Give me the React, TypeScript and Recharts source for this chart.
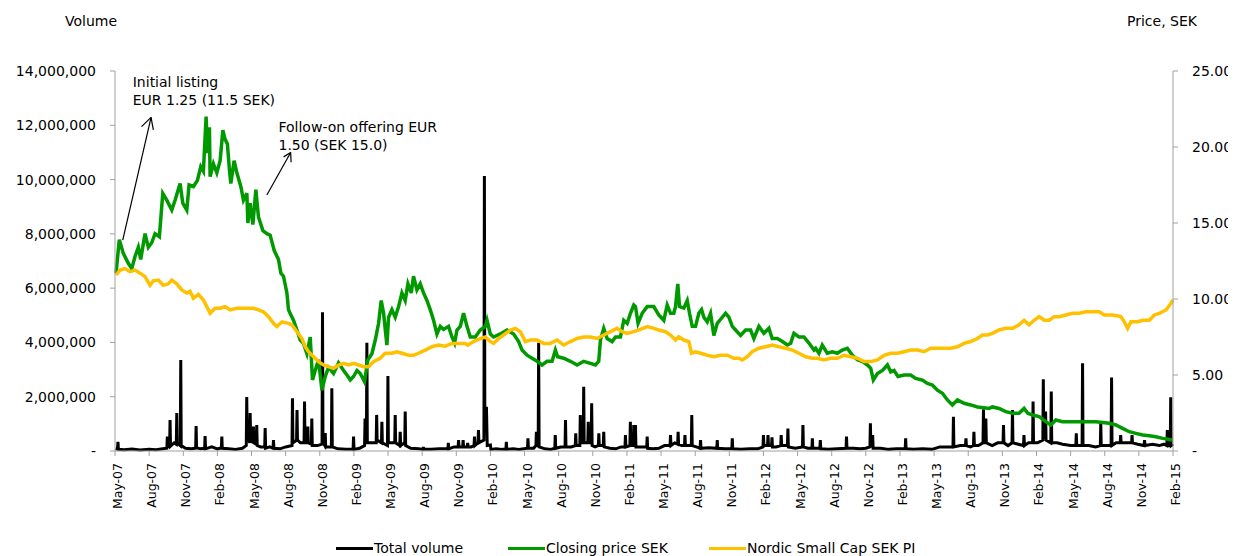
import React from 'react';
import { ComposedChart, Line, XAxis, YAxis, Legend, ReferenceLine, ReferenceDot } from 'recharts';

const FONT = 'Verdana, "DejaVu Sans", sans-serif';

// Quarterly tick labels; x values are months since May 2007
const quarterLabels = ['May-07','Aug-07','Nov-07','Feb-08','May-08','Aug-08','Nov-08','Feb-09','May-09','Aug-09','Nov-09','Feb-10','May-10','Aug-10','Nov-10','Feb-11','May-11','Aug-11','Nov-11','Feb-12','May-12','Aug-12','Nov-12','Feb-13','May-13','Aug-13','Nov-13','Feb-14','May-14','Aug-14','Nov-14','Feb-15'];
const quarterMonths = quarterLabels.map((_, i) => i * 3);
const volumeTicks = [0, 2000000, 4000000, 6000000, 8000000, 10000000, 12000000, 14000000];
const priceTicks = [0, 5, 10, 15, 20, 25];

// [month, SEK]
const closingPrice: [number, number][] = [
[0.09,11.7],[0.38,13.9],[0.73,13.0],[1.17,12.35],[1.47,12.0],[1.76,12.8],[2.05,13.4],[2.26,12.6],[2.64,14.3],[2.93,13.4],[3.23,13.7],[3.52,14.3],[3.9,14.1],[4.2,16.95],[4.55,16.5],[4.99,15.85],[5.28,16.5],[5.72,17.6],[5.96,16.3],[6.31,15.85],[6.51,17.5],[6.89,17.4],[7.24,17.8],[7.54,18.7],[7.77,18.4],[8.01,22.0],[8.12,19.6],[8.3,21.3],[8.36,18.05],[8.65,18.9],[8.95,18.3],[9.24,19.1],[9.48,21.1],[9.68,20.5],[9.88,20.2],[10.06,18.5],[10.18,17.6],[10.47,19.1],[10.71,18.3],[11.06,17.4],[11.29,16.5],[11.59,16.95],[11.68,15.0],[11.88,16.3],[12.12,14.9],[12.38,17.2],[12.61,15.4],[13.0,14.5],[13.35,14.3],[13.64,14.2],[13.99,13.2],[14.37,12.6],[14.58,11.7],[14.81,11.5],[15.11,10.4],[15.25,9.3],[15.4,9.05],[15.69,8.6],[15.99,7.96],[16.28,7.3],[16.57,7.08],[16.87,6.4],[17.16,7.5],[17.36,4.67],[17.6,5.3],[17.89,6.0],[18.19,4.0],[18.48,4.9],[18.77,5.5],[19.21,5.1],[19.65,5.8],[20.09,5.3],[20.39,5.0],[20.68,4.67],[20.97,4.9],[21.27,5.3],[21.56,5.1],[21.93,4.56],[22.23,6.0],[22.58,6.4],[22.88,7.3],[23.17,8.4],[23.4,9.9],[23.61,9.06],[23.9,6.97],[24.05,8.8],[24.34,9.3],[24.63,8.8],[24.93,9.5],[25.22,10.4],[25.51,9.9],[25.75,11.0],[26.04,10.4],[26.24,11.5],[26.54,10.6],[26.83,11.0],[27.12,10.4],[27.42,9.9],[27.71,9.3],[28.0,8.6],[28.3,7.7],[28.59,8.2],[28.88,8.0],[29.32,8.2],[29.62,7.5],[29.85,7.1],[30.06,7.96],[30.35,8.2],[30.64,9.06],[30.94,8.2],[31.23,7.5],[31.67,7.5],[32.11,7.96],[32.55,8.2],[32.7,8.6],[32.99,7.7],[33.28,7.5],[33.87,7.7],[34.46,7.96],[35.04,7.7],[35.48,7.2],[35.78,6.64],[36.22,6.3],[36.66,6.1],[37.1,5.9],[37.54,5.66],[37.98,5.9],[38.42,5.9],[38.71,6.64],[38.91,6.2],[39.44,6.1],[40.03,5.9],[40.62,5.66],[41.2,5.9],[41.79,5.77],[42.23,5.66],[42.52,5.9],[42.67,7.3],[42.96,8.07],[43.26,7.4],[43.7,7.2],[43.99,7.5],[44.43,7.5],[44.72,8.6],[45.02,8.4],[45.31,9.06],[45.6,9.6],[45.75,9.5],[45.98,8.4],[46.34,9.06],[46.78,9.5],[47.36,9.5],[47.8,8.95],[48.24,8.6],[48.54,9.6],[48.83,9.06],[49.12,9.06],[49.27,9.5],[49.47,11.0],[49.62,9.5],[50.0,9.4],[50.3,9.9],[50.5,9.06],[50.74,8.2],[51.03,8.2],[51.32,9.06],[51.56,9.3],[51.76,8.8],[52.06,8.5],[52.35,9.06],[52.64,7.6],[52.94,8.4],[53.38,8.8],[53.67,9.06],[53.96,8.8],[54.26,8.2],[54.55,7.96],[54.99,7.6],[55.43,7.96],[55.87,7.96],[56.16,7.4],[56.6,8.2],[57.04,7.74],[57.48,8.07],[57.77,7.4],[58.22,7.4],[58.66,7.2],[59.1,6.97],[59.39,7.08],[59.68,7.74],[60.12,7.5],[60.56,7.5],[61.0,7.1],[61.44,6.64],[61.59,6.76],[61.88,6.43],[62.17,6.97],[62.61,6.43],[63.05,6.53],[63.49,6.43],[63.93,6.64],[64.37,6.76],[64.82,6.3],[65.26,6.0],[65.7,5.88],[66.14,5.66],[66.43,5.44],[66.66,4.67],[67.02,5.1],[67.46,5.3],[67.9,5.66],[68.19,5.2],[68.48,5.3],[68.83,4.9],[69.36,5.0],[69.94,5.0],[70.38,4.78],[70.97,4.67],[71.41,4.45],[71.85,4.34],[72.29,4.0],[72.73,3.8],[73.17,3.36],[73.61,3.03],[74.05,3.36],[74.63,3.14],[75.22,3.03],[75.81,2.9],[76.37,2.85],[76.83,2.8],[77.13,2.9],[77.71,2.8],[78.3,2.59],[78.89,2.48],[79.47,2.48],[79.91,2.8],[80.24,2.48],[80.65,2.37],[81.24,2.26],[81.82,1.93],[82.26,1.71],[82.7,2.04],[83.29,1.93],[84.17,1.93],[85.05,1.93],[85.63,1.93],[86.22,1.93],[86.81,1.88],[87.39,1.82],[87.98,1.71],[88.57,1.49],[89.15,1.27],[89.74,1.16],[90.33,1.05],[90.92,1.0],[91.5,0.94],[92.09,0.83],[92.97,0.72]
];

// [month, index level on price axis]
const smallCapIndex: [number, number][] = [
[0.09,11.58],[0.44,11.9],[0.88,12.0],[1.32,11.8],[1.76,11.9],[2.2,11.7],[2.64,11.47],[3.08,10.9],[3.37,11.2],[3.81,11.25],[4.25,10.9],[4.69,11.0],[4.99,11.25],[5.43,11.0],[5.87,10.6],[6.31,10.4],[6.6,10.5],[6.89,10.05],[7.33,10.3],[7.77,9.93],[8.07,9.5],[8.36,9.06],[8.8,9.39],[9.24,9.39],[9.68,9.5],[10.12,9.28],[10.71,9.39],[11.15,9.39],[11.59,9.39],[12.17,9.39],[12.61,9.28],[13.05,9.16],[13.49,8.84],[13.93,8.4],[14.23,8.18],[14.67,8.5],[15.25,8.4],[15.55,8.3],[15.99,7.85],[16.43,7.4],[16.72,6.86],[17.01,6.53],[17.45,6.2],[17.89,5.88],[18.33,5.66],[18.77,5.55],[19.21,5.44],[19.65,5.66],[20.09,5.77],[20.53,5.66],[20.97,5.77],[21.41,5.66],[21.85,5.55],[22.29,5.55],[22.73,5.88],[23.31,6.1],[23.75,6.43],[24.34,6.43],[24.78,6.53],[25.22,6.43],[25.81,6.3],[26.24,6.3],[26.68,6.43],[27.27,6.64],[27.86,6.86],[28.44,6.97],[29.03,6.9],[29.62,7.08],[30.2,7.08],[30.79,7.08],[31.0,6.97],[31.52,7.2],[32.11,7.4],[32.55,7.5],[32.99,7.2],[33.28,7.08],[33.72,7.4],[34.16,7.63],[34.75,7.96],[35.19,8.07],[35.63,7.85],[36.07,7.2],[36.51,7.3],[37.1,7.3],[37.68,7.08],[38.27,7.08],[38.86,7.3],[39.44,6.97],[40.03,7.2],[40.62,7.4],[41.2,7.5],[41.79,7.5],[42.38,7.4],[42.96,7.63],[43.55,7.85],[44.14,8.07],[44.58,7.85],[45.02,7.74],[45.6,7.85],[46.19,8.0],[46.78,8.18],[47.36,8.07],[47.8,7.96],[48.39,7.85],[48.83,7.63],[49.27,7.3],[49.56,7.52],[50.0,7.3],[50.44,7.2],[50.68,6.43],[51.03,6.53],[51.47,6.43],[52.06,6.3],[52.64,6.2],[53.23,6.3],[53.82,6.3],[54.4,6.1],[54.84,6.1],[55.13,5.99],[55.57,6.2],[56.01,6.53],[56.6,6.76],[57.19,6.86],[57.78,6.97],[58.36,6.86],[58.95,6.76],[59.54,6.64],[60.12,6.43],[60.71,6.2],[61.3,6.1],[61.74,6.1],[62.32,5.99],[62.91,6.1],[63.49,6.1],[64.08,6.3],[64.67,6.2],[65.26,6.1],[65.84,5.88],[66.43,5.88],[67.02,5.99],[67.61,6.3],[68.19,6.43],[68.78,6.43],[69.36,6.53],[69.94,6.64],[70.53,6.64],[71.12,6.53],[71.71,6.76],[72.29,6.76],[72.88,6.76],[73.46,6.76],[74.05,6.86],[74.63,7.08],[75.22,7.2],[75.81,7.4],[76.25,7.63],[76.69,7.63],[77.13,7.74],[77.71,7.96],[78.3,8.07],[78.89,8.07],[79.47,8.3],[79.91,8.6],[80.35,8.3],[80.79,8.6],[81.24,8.84],[81.68,8.6],[82.12,8.6],[82.56,8.84],[83.0,8.84],[83.58,8.95],[84.17,9.06],[84.76,9.06],[85.34,9.16],[85.93,9.16],[86.52,9.16],[86.96,8.95],[87.69,8.95],[88.42,8.84],[88.72,8.5],[89.01,8.07],[89.3,8.5],[89.89,8.5],[90.36,8.6],[90.92,8.6],[91.36,8.95],[91.8,9.06],[92.39,9.28],[92.82,9.72],[93.0,9.93]
];

// [month, volume in thousands of shares]
const totalVolumeK: [number, number][] = [
[0.05,90],[0.22,70],[0.26,340],[0.3,60],[0.8,50],[1.5,70],[2.2,40],[3.0,60],[3.6,50],[4.2,80],[4.56,100],[4.6,530],[4.64,150],[4.8,200],[4.84,1140],[4.88,180],[5.2,300],[5.39,250],[5.43,1400],[5.47,300],[5.74,200],[5.78,3350],[5.82,200],[6.2,100],[6.7,80],[7.09,100],[7.13,920],[7.17,120],[7.5,80],[7.88,100],[7.92,550],[7.96,80],[8.5,150],[9.0,80],[9.35,120],[9.39,530],[9.43,100],[10.0,80],[10.6,60],[11.2,100],[11.54,200],[11.58,1990],[11.62,600],[11.84,300],[11.88,1400],[11.92,500],[12.13,300],[12.17,900],[12.21,300],[12.42,250],[12.46,960],[12.5,200],[12.8,150],[13.16,150],[13.2,850],[13.24,100],[13.6,150],[13.89,100],[13.93,400],[13.97,100],[14.5,80],[15.0,150],[15.56,200],[15.6,1940],[15.64,300],[15.96,400],[16.0,1510],[16.04,400],[16.3,300],[16.62,300],[16.66,1820],[16.7,300],[16.91,300],[16.95,900],[16.99,300],[17.26,250],[17.3,1200],[17.34,200],[17.8,200],[18.2,250],[18.24,5110],[18.28,300],[18.44,200],[18.48,660],[18.52,150],[19.02,150],[19.06,2310],[19.1,150],[19.6,80],[20.3,60],[20.93,60],[20.97,530],[21.01,60],[21.5,100],[21.94,200],[21.98,1200],[22.02,300],[22.1,300],[22.14,3990],[22.18,300],[22.6,300],[22.96,300],[23.0,1330],[23.04,400],[23.42,300],[23.46,1080],[23.5,300],[23.95,200],[23.99,2760],[24.03,300],[24.3,300],[24.59,300],[24.63,1330],[24.67,300],[25.03,200],[25.07,710],[25.11,200],[25.47,300],[25.51,1450],[25.55,200],[26.0,100],[26.7,80],[27.06,60],[27.1,150],[27.14,60],[27.8,60],[28.5,80],[29.26,80],[29.3,300],[29.34,80],[29.8,150],[30.16,150],[30.2,400],[30.24,150],[30.56,150],[30.6,400],[30.64,150],[30.96,150],[31.0,300],[31.04,150],[31.3,150],[31.56,200],[31.6,530],[31.64,200],[31.91,300],[31.95,770],[31.99,300],[32.43,400],[32.47,10130],[32.51,800],[32.65,1630],[32.72,200],[33.0,220],[33.04,60],[33.5,80],[34.0,60],[34.36,60],[34.4,340],[34.44,60],[35.0,80],[35.5,60],[36.26,100],[36.3,470],[36.34,100],[36.8,100],[37.0,200],[37.04,710],[37.08,200],[37.2,200],[37.24,3990],[37.28,150],[37.8,80],[38.3,60],[38.66,100],[38.7,590],[38.74,100],[39.2,150],[39.56,150],[39.6,1140],[39.64,150],[40.1,150],[40.46,200],[40.5,650],[40.54,200],[40.86,200],[40.9,1330],[40.94,300],[41.16,300],[41.2,2370],[41.24,300],[41.56,300],[41.6,1080],[41.64,300],[41.86,300],[41.9,1760],[41.94,200],[42.2,150],[42.49,200],[42.53,650],[42.57,200],[42.92,200],[42.96,710],[43.0,150],[43.5,100],[44.0,80],[44.5,150],[44.83,150],[44.87,590],[44.91,150],[45.26,200],[45.3,1080],[45.34,200],[45.56,200],[45.6,960],[45.64,200],[45.71,200],[45.75,960],[45.79,150],[46.3,150],[46.74,150],[46.78,530],[46.82,100],[47.3,80],[47.8,100],[48.3,200],[48.79,200],[48.83,590],[48.87,200],[49.2,300],[49.46,250],[49.5,710],[49.54,250],[49.8,200],[50.06,200],[50.1,590],[50.14,200],[50.66,200],[50.7,1330],[50.74,200],[51.1,150],[51.43,100],[51.47,400],[51.51,100],[52.2,120],[52.9,100],[52.94,400],[52.98,100],[53.6,80],[54.22,80],[54.26,470],[54.3,80],[55.0,60],[55.8,80],[56.5,80],[56.96,150],[57.0,590],[57.04,200],[57.2,200],[57.36,200],[57.4,590],[57.44,200],[57.71,200],[57.75,500],[57.79,150],[58.1,150],[58.52,200],[58.56,590],[58.6,200],[59.11,200],[59.15,830],[59.19,150],[59.8,100],[60.43,150],[60.47,960],[60.51,150],[60.9,100],[61.26,100],[61.3,470],[61.34,100],[61.96,100],[62.0,400],[62.04,80],[62.7,60],[63.5,80],[64.26,100],[64.3,530],[64.34,100],[64.9,100],[65.5,80],[66.0,100],[66.36,150],[66.4,1020],[66.44,200],[66.56,200],[66.6,590],[66.64,100],[67.3,100],[68.0,60],[68.7,80],[69.46,80],[69.5,470],[69.54,80],[70.2,60],[71.0,80],[71.8,60],[72.5,150],[73.2,150],[73.66,150],[73.7,1260],[73.74,150],[74.3,200],[74.76,200],[74.8,470],[74.84,200],[75.2,150],[75.46,200],[75.5,710],[75.54,200],[75.9,200],[76.3,300],[76.34,1540],[76.38,300],[76.51,300],[76.55,1200],[76.59,300],[77.1,200],[77.6,300],[78.06,300],[78.1,960],[78.14,300],[78.5,200],[78.85,300],[78.89,1510],[78.93,300],[79.4,250],[79.86,200],[79.9,590],[79.94,200],[80.3,300],[80.66,300],[80.7,1820],[80.74,300],[81.1,300],[81.56,400],[81.6,2640],[81.64,500],[81.76,500],[81.8,1450],[81.84,400],[82.26,300],[82.3,2190],[82.34,300],[82.8,300],[83.3,250],[84.0,200],[84.46,200],[84.5,650],[84.54,200],[85.01,200],[85.05,3230],[85.09,200],[85.6,200],[86.2,150],[86.61,200],[86.65,1020],[86.69,200],[87.2,200],[87.56,200],[87.6,2710],[87.64,200],[88.0,300],[88.36,300],[88.4,590],[88.44,300],[89.0,300],[89.36,300],[89.4,590],[89.44,300],[89.9,250],[90.46,200],[90.5,400],[90.54,200],[91.2,250],[91.8,200],[92.2,250],[92.46,200],[92.5,770],[92.54,200],[92.76,200],[92.8,1980],[92.84,200],[93.0,250]
];

// Annotations (month, price-axis level)
const annotationTexts = [
  { m: 1.56, p: 23.95, lines: ['Initial listing', 'EUR 1.25 (11.5 SEK)'] },
  { m: 14.37, p: 20.99, lines: ['Follow-on offering EUR', '1.50 (SEK 15.0)'] },
];
const arrowSegments: [number, number, number, number][] = [
  [0.68, 13.88, 3.17, 21.95], [2.33, 21.34, 3.17, 21.95], [3.37, 21.12, 3.17, 21.95],
  [13.35, 16.84, 15.44, 19.64], [14.82, 19.35, 15.44, 19.64], [15.48, 19.0, 15.44, 19.64],
];

const legendItems = [
  { label: 'Total volume', color: '#000000', left: 328 },
  { label: 'Closing price SEK', color: '#009900', left: 500 },
  { label: 'Nordic Small Cap SEK PI', color: '#FFC000', left: 701 },
];

type Row = { m: number; vol?: number; close?: number; index?: number };
const rowMap = new Map<number, Row>();
const put = (m: number, key: 'vol' | 'close' | 'index', v: number) => {
  const r = rowMap.get(m) ?? { m };
  r[key] = v;
  rowMap.set(m, r);
};
totalVolumeK.forEach(([m, v]) => put(m, 'vol', v * 1000));
closingPrice.forEach(([m, v]) => put(m, 'close', v));
smallCapIndex.forEach(([m, v]) => put(m, 'index', v));
const chartData = Array.from(rowMap.values()).sort((a, b) => a.m - b.m);

const AXIS = '#a0a0a0';

const XTick = (props: any) => {
  const { x, y, payload } = props;
  const i = quarterMonths.indexOf(payload.value);
  return (
    <text x={x} y={y} dy={7} transform={`rotate(-90 ${x} ${y})`} textAnchor="end"
      fontSize={12.5} fontFamily={FONT} fill="#000">
      {i >= 0 ? quarterLabels[i] : ''}
    </text>
  );
};

const fmtVol = (v: number) => (v === 0 ? '-' : v.toLocaleString('en-US'));
const fmtPrice = (v: number) => (v === 0 ? '-' : v.toFixed(2));

const AnnotationShape = (lines: string[]) => (props: any) => (
  <text x={props.cx} y={props.cy} fontSize={14} fontFamily={FONT} fill="#000">
    {lines.map((t, i) => (
      <tspan key={i} x={props.cx} dy={i === 0 ? 0 : 18}>{t}</tspan>
    ))}
  </text>
);

const LegendContent = () => (
  <div style={{ position: 'relative', height: 20, width: 1228 }}>
    {legendItems.map((it) => (
      <div key={it.label} style={{ position: 'absolute', left: it.left, top: 8, height: 18, display: 'flex', alignItems: 'center', whiteSpace: 'nowrap' }}>
        <span style={{ display: 'inline-block', width: 37, height: 3, background: it.color, marginRight: 1 }} />
        <span style={{ fontFamily: FONT, fontSize: 14, color: '#000', lineHeight: '18px' }}>{it.label}</span>
      </div>
    ))}
  </div>
);

const leftTitle = (props: any) => {
  const vb = props.viewBox || { x: 0, y: 63 };
  return <text x={vb.x + 57} y={vb.y - 45} fontSize={14} fontFamily={FONT} fill="#000">Volume</text>;
};
const rightTitle = (props: any) => {
  const vb = props.viewBox || { x: 1165, y: 63 };
  return <text x={vb.x - 46} y={vb.y - 45} fontSize={14} fontFamily={FONT} fill="#000">Price, SEK</text>;
};

export default function App() {
  return (
    <div style={{ width: 1228, height: 548 }}>
      <ComposedChart width={1228} height={548} data={chartData}
        margin={{ top: 63, right: 0, bottom: 5, left: 0 }}>
        <XAxis dataKey="m" type="number" domain={[0, 93]} ticks={quarterMonths} interval={0}
          height={80} tickSize={5} tickMargin={7} tick={<XTick />}
          axisLine={{ stroke: AXIS }} tickLine={{ stroke: AXIS }} />
        <YAxis yAxisId="vol" orientation="left" width={107} domain={[0, 14000000]} ticks={volumeTicks}
          interval={0} tickFormatter={fmtVol} tickSize={5} tickMargin={14}
          tick={{ fontSize: 14, fontFamily: FONT, fill: '#000' }}
          axisLine={{ stroke: AXIS }} tickLine={{ stroke: AXIS }} label={leftTitle} />
        <YAxis yAxisId="price" orientation="right" width={63} domain={[0, 25]} ticks={priceTicks}
          interval={0} tickFormatter={fmtPrice} tickSize={5} tickMargin={14}
          tick={{ fontSize: 14, fontFamily: FONT, fill: '#000', textAnchor: 'start' }}
          axisLine={{ stroke: AXIS }} tickLine={{ stroke: AXIS }} label={rightTitle} />
        <Legend verticalAlign="bottom" content={<LegendContent />} />
        <Line yAxisId="vol" dataKey="vol" name="Total volume" stroke="#000000" strokeWidth={3}
          dot={false} activeDot={false} connectNulls isAnimationActive={false} type="linear" />
        <Line yAxisId="price" dataKey="close" name="Closing price SEK" stroke="#009900" strokeWidth={3.5}
          dot={false} activeDot={false} connectNulls isAnimationActive={false} type="linear" />
        <Line yAxisId="price" dataKey="index" name="Nordic Small Cap SEK PI" stroke="#FFC000" strokeWidth={3.5}
          dot={false} activeDot={false} connectNulls isAnimationActive={false} type="linear" />
        {arrowSegments.map((s, i) => (
          <ReferenceLine key={`a${i}`} yAxisId="price" segment={[{ x: s[0], y: s[1] }, { x: s[2], y: s[3] }]}
            stroke="#000" strokeWidth={1.2} ifOverflow="visible" />
        ))}
        {annotationTexts.map((a, i) => (
          <ReferenceDot key={`t${i}`} yAxisId="price" x={a.m} y={a.p} r={0} ifOverflow="visible"
            shape={AnnotationShape(a.lines)} />
        ))}
      </ComposedChart>
    </div>
  );
}
